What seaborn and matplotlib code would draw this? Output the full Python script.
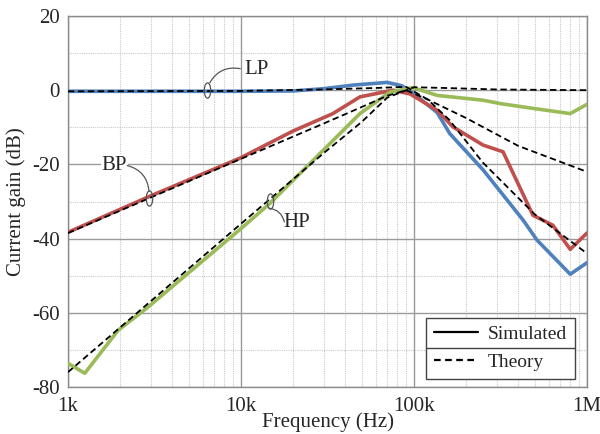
import numpy as np
import pandas as pd
import matplotlib
matplotlib.use("Agg")
import matplotlib.pyplot as plt
import seaborn as sns
from matplotlib.path import Path
from matplotlib.transforms import Affine2D
from matplotlib.lines import Line2D
from matplotlib.ticker import FixedLocator, NullFormatter

# ---- data ----
lp_sim_f = [1e3, 5e3, 1e4, 2e4, 3e4, 4.5e4, 7e4, 8.5e4, 1e5, 1.36e5, 1.61e5, 2.51e5, 4.27e5, 5.14e5, 8e5, 1e6]
lp_sim_db = [-0.3, -0.3, -0.3, -0.2, 0.4, 1.4, 2.1, 1.2, -1.0, -6.0, -11.7, -21.5, -35.0, -40.4, -49.6, -46.5]

bp_sim_f = [1e3, 3e3, 1e4, 1.13e4, 2e4, 3.4e4, 4.87e4, 7.57e4, 9.48e4, 1.36e5, 1.68e5, 2.51e5, 3.27e5, 4.87e5, 6.35e5, 8e5, 1e6]
bp_sim_db = [-38.3, -28.5, -18.2, -16.9, -11.0, -6.3, -1.8, 0.0, -1.0, -5.4, -9.9, -14.8, -16.6, -33.7, -36.4, -42.9, -38.5]

hp_sim_f = [1e3, 1.25e3, 1.95e3, 2.86e3, 1e4, 1.47e4, 2.5e4, 4.87e4, 7.26e4, 9.86e4, 1.36e5, 2.51e5, 3.14e5, 4.87e5, 8e5, 1e6]
hp_sim_db = [-73.6, -76.3, -64.7, -58.7, -37.3, -30.5, -19.8, -6.3, -0.5, 0.7, -1.4, -2.7, -3.6, -4.9, -6.3, -3.8]

lp_th_f = [1e3, 1e4, 3e4, 6e4, 9e4, 1.2e5, 1.6e5, 2.5e5, 4e5, 5e5, 1e6]
lp_th_db = [-0.3, -0.2, 0.2, 0.6, 0.9, -2.5, -8.0, -19.5, -29.0, -33.5, -44.0]

bp_th_f = [1e3, 1e4, 3e4, 5e4, 7e4, 9e4, 1.2e5, 2e5, 4e5, 1e6]
bp_th_db = [-38.5, -18.5, -9.0, -4.5, -1.5, 0.0, -2.5, -7.5, -15.0, -22.0]

hp_th_f = [1e3, 1e4, 3e4, 5e4, 7e4, 1e5, 1.5e5, 3e5, 1e6]
hp_th_db = [-76.0, -36.0, -17.0, -8.5, -2.0, 0.8, 0.6, 0.2, 0.0]

x_ticks = [1e3, 1e4, 1e5, 1e6]
x_tick_labels = ["1k", "10k", "100k", "1M"]
y_ticks = [-80, -60, -40, -20, 0, 20]
y_tick_labels = ["-80", "-60", "-40", "-20", "0", "20"]

colors = {"LP": "#4F81BD", "BP": "#C0504D", "HP": "#9BBB59"}

# ---- figure ----
sns.set_theme(style="white")
plt.rcParams["font.family"] = ["Liberation Serif", "DejaVu Serif"]
plt.rcParams["axes.unicode_minus"] = False

fig = plt.figure(figsize=(6.0, 4.34), dpi=100)
ax = fig.add_axes([68 / 600, (434 - 387) / 434, 519 / 600, 371 / 434])

sims = [("LP", lp_sim_f, lp_sim_db), ("BP", bp_sim_f, bp_sim_db), ("HP", hp_sim_f, hp_sim_db)]
ths = [("LP", lp_th_f, lp_th_db), ("BP", bp_th_f, bp_th_db), ("HP", hp_th_f, hp_th_db)]

for name, f, db in sims:
    df = pd.DataFrame({"f": f, "db": db})
    sns.lineplot(data=df, x="f", y="db", ax=ax, color=colors[name], lw=2.6,
                 sort=False, estimator=None, zorder=3)
for name, f, db in ths:
    df = pd.DataFrame({"f": f, "db": db})
    sns.lineplot(data=df, x="f", y="db", ax=ax, color="black", lw=1.3,
                 sort=False, estimator=None, zorder=4)
for l in ax.lines[3:]:
    l.set_dashes([3.5, 2.0])

ax.set_xscale("log")
ax.set_xlim(1e3, 1e6)
ax.set_ylim(-80, 20)

ax.xaxis.set_major_locator(FixedLocator(x_ticks))
ax.set_xticklabels(x_tick_labels)
minors = [m * 10 ** d for d in (3, 4, 5) for m in range(2, 10)]
ax.xaxis.set_minor_locator(FixedLocator(minors))
ax.xaxis.set_minor_formatter(NullFormatter())
ax.set_yticks(y_ticks)
ax.set_yticklabels(y_tick_labels)
ax.set_yticks(list(range(-70, 20, 20)), minor=True)

ax.grid(which="major", color="#9a9a9a", lw=1.0, ls="-")
ax.grid(which="minor", color="#c8c8c8", lw=0.8, ls=(0, (1, 1)))
ax.set_axisbelow(True)
for s in ax.spines.values():
    s.set_color("#8a8a8a")
    s.set_linewidth(1.0)
ax.tick_params(which="major", labelsize=15, length=4, color="#8a8a8a", pad=2)
ax.tick_params(which="minor", length=0)
ax.tick_params(axis="x", pad=3)

ax.set_xlabel("Frequency (Hz)", fontsize=15, va="bottom")
ax.xaxis.set_label_coords(0.5, -0.121)
ax.set_ylabel("Current gain (dB)", fontsize=15, labelpad=4)

# ellipse markers and callouts
ell = Path.unit_circle().transformed(Affine2D().scale(0.42, 1.0))
ecol = "#555555"
callouts = [
    ("LP", (1.05e4, 5.7), (6.35e3, 0.0), "left"),
    ("BP", (1.85e3, -20.2), (2.94e3, -29.1), "center"),
    ("HP", (2.1e4, -35.6), (1.47e4, -29.9), "center"),
]
for txt, tpos, epos, ha in callouts:
    ax.plot([epos[0]], [epos[1]], marker=ell, ms=11, mfc="none", mec=ecol, mew=0.9, zorder=6)
    ax.text(tpos[0], tpos[1], txt, fontsize=15, ha=ha, va="center", zorder=6,
            bbox=dict(facecolor="white", edgecolor="none", pad=0.5))

ax.annotate("", xy=(6.6e3, 2.0), xytext=(9.9e3, 5.8),
            arrowprops=dict(arrowstyle="-", color=ecol, lw=0.9, connectionstyle="arc3,rad=0.35",
                            shrinkA=0, shrinkB=0), zorder=6)
ax.annotate("", xy=(2.94e3, -27.3), xytext=(2.2e3, -20.3),
            arrowprops=dict(arrowstyle="-", color=ecol, lw=0.9, connectionstyle="arc3,rad=-0.35",
                            shrinkA=0, shrinkB=0), zorder=6)
ax.annotate("", xy=(1.45e4, -31.8), xytext=(1.78e4, -35.5),
            arrowprops=dict(arrowstyle="-", color=ecol, lw=0.9, connectionstyle="arc3,rad=0.35",
                            shrinkA=0, shrinkB=0), zorder=6)

# legend
handles = [Line2D([], [], color="black", lw=1.6),
           Line2D([], [], color="black", lw=1.6, dashes=[3, 2])]
leg = ax.legend(handles, ["Simulated", "Theory"], loc="lower right",
                bbox_to_anchor=(0.977, 0.0216), borderaxespad=0, fontsize=14,
                frameon=True, fancybox=False, framealpha=1, edgecolor="#444444",
                handlelength=2.3, handletextpad=0.5, labelspacing=0.55,
                borderpad=0.4)
leg.get_frame().set_linewidth(1.0)
leg.set_zorder(10)
fig.canvas.draw()
bb = leg.get_window_extent()
ymid = (bb.y0 + bb.y1) / 2
sep = Line2D([bb.x0, bb.x1], [ymid, ymid], color="#444444", lw=1.0,
             transform=None, zorder=11)
fig.add_artist(sep)

fig.savefig("out.png", dpi=100)
